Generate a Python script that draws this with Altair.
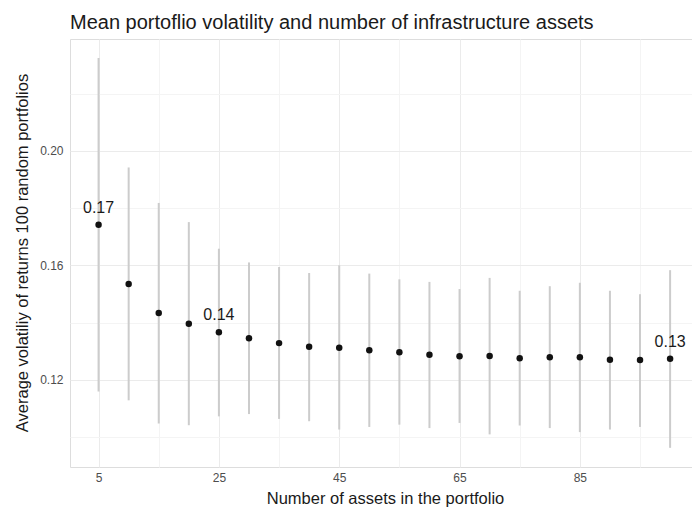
import altair as alt
import pandas as pd

# Portfolio size (number of infrastructure assets)
n_assets = [5, 10, 15, 20, 25, 30, 35, 40, 45, 50,
            55, 60, 65, 70, 75, 80, 85, 90, 95, 100]
# Mean volatility across 100 random portfolios
mean_vol = [0.1742, 0.1535, 0.1433, 0.1396, 0.1366, 0.1345, 0.1328, 0.1315, 0.1312, 0.1303,
            0.1296, 0.1287, 0.1282, 0.1283, 0.1275, 0.1279, 0.1279, 0.1270, 0.1269, 0.1273]
# Range of volatility (min / max) across the random portfolios
vol_low = [0.1159, 0.1128, 0.1047, 0.1041, 0.1072, 0.1080, 0.1063, 0.1055, 0.1026, 0.1035,
           0.1043, 0.1031, 0.1049, 0.1009, 0.1040, 0.1031, 0.1017, 0.1026, 0.1035, 0.0962]
vol_high = [0.2325, 0.1942, 0.1818, 0.1751, 0.1658, 0.1610, 0.1594, 0.1573, 0.1600, 0.1571,
            0.1551, 0.1542, 0.1517, 0.1556, 0.1511, 0.1527, 0.1539, 0.1511, 0.1499, 0.1583]
# Portfolio sizes whose mean gets a value label
labelled_assets = [5, 25, 100]

x_ticks = [5, 15, 25, 35, 45, 55, 65, 75, 85, 95]
y_ticks = [0.10, 0.12, 0.14, 0.16, 0.18, 0.20, 0.22]

df = pd.DataFrame({"n": n_assets, "mean": mean_vol, "low": vol_low, "high": vol_high})

FONT = "Liberation Sans"

x_axis = alt.Axis(
    values=x_ticks,
    labelExpr="(datum.value - 5) % 20 == 0 ? datum.label : ''",
    ticks=False, domain=False, labelPadding=5,
    labelFontSize=12, labelColor="#4d4d4d", labelFont=FONT,
    titleFontSize=16.5, titleFont=FONT, titleColor="#1a1a1a", titleFontWeight="normal",
    titleX=315, titleY=36, titleBaseline="alphabetic", titleAnchor="start", titleAlign="center",
    gridColor={"condition": {"test": "(datum.value - 5) % 20 == 0", "value": "#ebebeb"},
               "value": "#f4f4f4"},
    gridWidth=1,
)
y_axis = alt.Axis(
    values=y_ticks, format=".2f",
    labelExpr="round(datum.value * 100) % 4 == 0 ? datum.label : ''",
    ticks=False, domain=False, labelPadding=7,
    labelFontSize=12, labelColor="#4d4d4d", labelFont=FONT,
    titleFontSize=16.5, titleFont=FONT, titleColor="#1a1a1a", titleFontWeight="normal",
    titleX=-47.5, titleY=213.5, titleAngle=270, titleAlign="center", titleBaseline="middle",
    gridColor={"condition": {"test": "round(datum.value * 100) % 4 == 0", "value": "#ebebeb"},
               "value": "#f4f4f4"},
    gridWidth=1,
)

x_scale = alt.Scale(domain=[0.25, 103.64], nice=False, zero=False)
y_scale = alt.Scale(domain=[0.0895, 0.2391], nice=False, zero=False)

x_title = "Number of assets in the portfolio"
y_title = "Average volatiliy of returns 100 random portfolios"

x_enc = alt.X("n:Q", scale=x_scale, axis=x_axis, title=x_title)

base = alt.Chart(df)

ranges = base.mark_rule(color="#cccccc", strokeWidth=2).encode(
    x=x_enc,
    y=alt.Y("low:Q", scale=y_scale, axis=y_axis, title=y_title),
    y2="high:Q",
)

points = base.mark_circle(size=42, color="#111111", opacity=1).encode(
    x=x_enc,
    y=alt.Y("mean:Q", scale=y_scale, axis=y_axis, title=y_title),
)

labels = (
    base.transform_filter(alt.FieldOneOfPredicate(field="n", oneOf=labelled_assets))
    .transform_calculate(lab="format(datum.mean, '.2f')")
    .mark_text(dy=-12, baseline="alphabetic", align="center",
               fontSize=16, font=FONT, color="#1a1a1a")
    .encode(
        x=x_enc,
        y=alt.Y("mean:Q", scale=y_scale, axis=y_axis, title=y_title),
        text="lab:N",
    )
)

chart = (
    alt.layer(ranges, points, labels)
    .properties(
        width=622,
        height=428,
        autosize="none",
        padding={"left": 70, "top": 39, "right": 0, "bottom": 40},
        title=alt.TitleParams(
            "Mean portoflio volatility and number of infrastructure assets",
            anchor="start", frame="group", baseline="alphabetic", offset=12, dy=22,
            fontSize=20, font=FONT, color="#1a1a1a", fontWeight="normal",
        ),
    )
    .configure_view(stroke="#d6d6d6", strokeWidth=1)
    .configure(background="white")
)

chart.save("out.html", embed_options={"renderer": "svg", "actions": False})
